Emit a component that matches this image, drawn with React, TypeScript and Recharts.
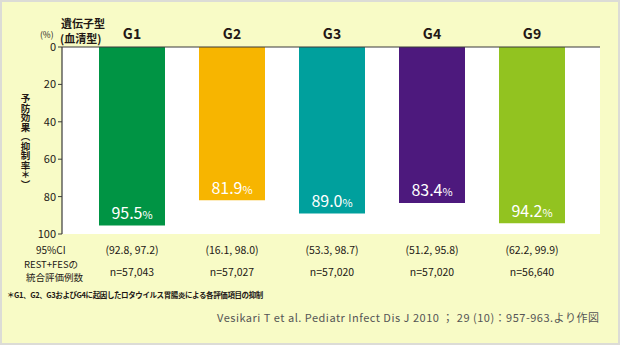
import { BarChart, Bar, XAxis, YAxis, CartesianGrid, Cell, LabelList } from "recharts"

const groups = ["G1", "G2", "G3", "G4", "G9"]
const efficacy = [95.5, 81.9, 89.0, 83.4, 94.2]
const ciLabels = ["(92.8, 97.2)", "(16.1, 98.0)", "(53.3, 98.7)", "(51.2, 95.8)", "(62.2, 99.9)"]
const countLabels = ["n=57,043", "n=57,027", "n=57,020", "n=57,020", "n=56,640"]
const yTicks = [0, 20, 40, 60, 80, 100]

const BAR_COLORS = ["#009444", "#f7b500", "#00a09d", "#4d197d", "#92c320"]
const INK = "#231815"
const FONT = "'Noto Sans CJK JP', 'Noto Sans', sans-serif"

const data = groups.map((g, i) => ({ name: g, value: efficacy[i] }))

function GroupTick(props: any) {
  const { x, payload } = props
  return (
    <text x={x} y={39} textAnchor="middle" fontSize={14} fontWeight={700} fill={INK} fontFamily={FONT}>
      {payload.value}
    </text>
  )
}

function TableTick(props: any) {
  const { x, index } = props
  return (
    <g fontFamily={FONT} fontSize={10.5} fill={INK} textAnchor="middle">
      <text x={x} y={254}>{ciLabels[index]}</text>
      <text x={x} y={276}>{countLabels[index]}</text>
    </g>
  )
}

function ValueLabel(props: any) {
  const { x, y, width, height, value } = props
  const bottom = Math.max(y, y + height)
  return (
    <text
      x={x + width / 2}
      y={bottom - 6.5}
      textAnchor="middle"
      fill="#ffffff"
      fontFamily={FONT}
      fontSize={16}
    >
      {Number(value).toFixed(1)}
      <tspan fontSize={11}>%</tspan>
    </text>
  )
}

const abs = (x: number, y: number, extra: any = {}) => ({
  position: "absolute" as const,
  left: x,
  top: y,
  whiteSpace: "nowrap" as const,
  lineHeight: 1,
  color: INK,
  fontFamily: FONT,
  ...extra,
})

export default function App() {
  return (
    <div
      style={{
        position: "absolute",
        left: 0,
        top: 0,
        width: 620,
        height: 345,
        background: "#f8fbc6",
        boxShadow: "inset 0 0 0 2px #dcdcd6",
        overflow: "hidden",
      }}
    >
      <BarChart
        width={620}
        height={345}
        data={data}
        margin={{ top: 27, right: 20, bottom: 61, left: 32 }}
        barSize={66}
      >
        <CartesianGrid horizontal={false} vertical={false} fill="#ffffff" />
        <XAxis
          xAxisId="top"
          dataKey="name"
          orientation="top"
          height={20}
          padding={{ left: 20, right: 18 }}
          axisLine={{ stroke: "#3a3a3a", strokeWidth: 1.2 }}
          tickLine={false}
          tick={<GroupTick />}
          interval={0}
        />
        <XAxis
          xAxisId="table"
          dataKey="name"
          orientation="bottom"
          height={50}
          padding={{ left: 20, right: 18 }}
          axisLine={false}
          tickLine={false}
          tick={<TableTick />}
          interval={0}
        />
        <YAxis
          domain={[0, 100]}
          ticks={yTicks}
          reversed
          width={30}
          axisLine={{ stroke: "#3a3a3a", strokeWidth: 1.2 }}
          tickLine={{ stroke: "#3a3a3a" }}
          tickSize={4}
          tickMargin={2}
          tick={{ fontSize: 11, fill: INK, fontFamily: FONT }}
          interval={0}
        />
        <Bar dataKey="value" xAxisId="top" isAnimationActive={false}>
          {data.map((d, i) => (
            <Cell key={d.name} fill={BAR_COLORS[i]} />
          ))}
          <LabelList dataKey="value" content={<ValueLabel />} />
        </Bar>
      </BarChart>

      {/* header labels */}
      <div style={abs(61, 18, { fontSize: 11, fontWeight: 700 })}>遺伝子型</div>
      <div style={abs(60, 33, { fontSize: 11, fontWeight: 700 })}>(血清型)</div>
      <div style={abs(40, 30, { fontSize: 8.5 })}>(%)</div>

      {/* vertical axis title */}
      <div
        style={abs(20, 94, {
          fontSize: 9.5,
          fontWeight: 700,
          writingMode: "vertical-rl",
        })}
      >
        予防効果（抑制率＊）
      </div>

      {/* table row titles */}
      <div style={abs(36, 245, { fontSize: 10 })}>95%CI</div>
      <div style={abs(24, 260, { fontSize: 9.5 })}>REST+FESの</div>
      <div style={abs(26, 273, { fontSize: 9.5 })}>統合評価例数</div>

      {/* footnote */}
      <div style={abs(7, 291, { fontSize: 7.5, fontWeight: 700, letterSpacing: -0.4 })}>
        ＊G1、G2、G3およびG4に起因したロタウイルス胃腸炎による各評価項目の抑制
      </div>

      {/* source */}
      <div style={abs(217, 312, { fontSize: 11, color: "#555555", letterSpacing: 0.5 })}>
        Vesikari T et al. Pediatr Infect Dis J 2010 ； 29 (10)：957-963.より作図
      </div>
    </div>
  )
}
